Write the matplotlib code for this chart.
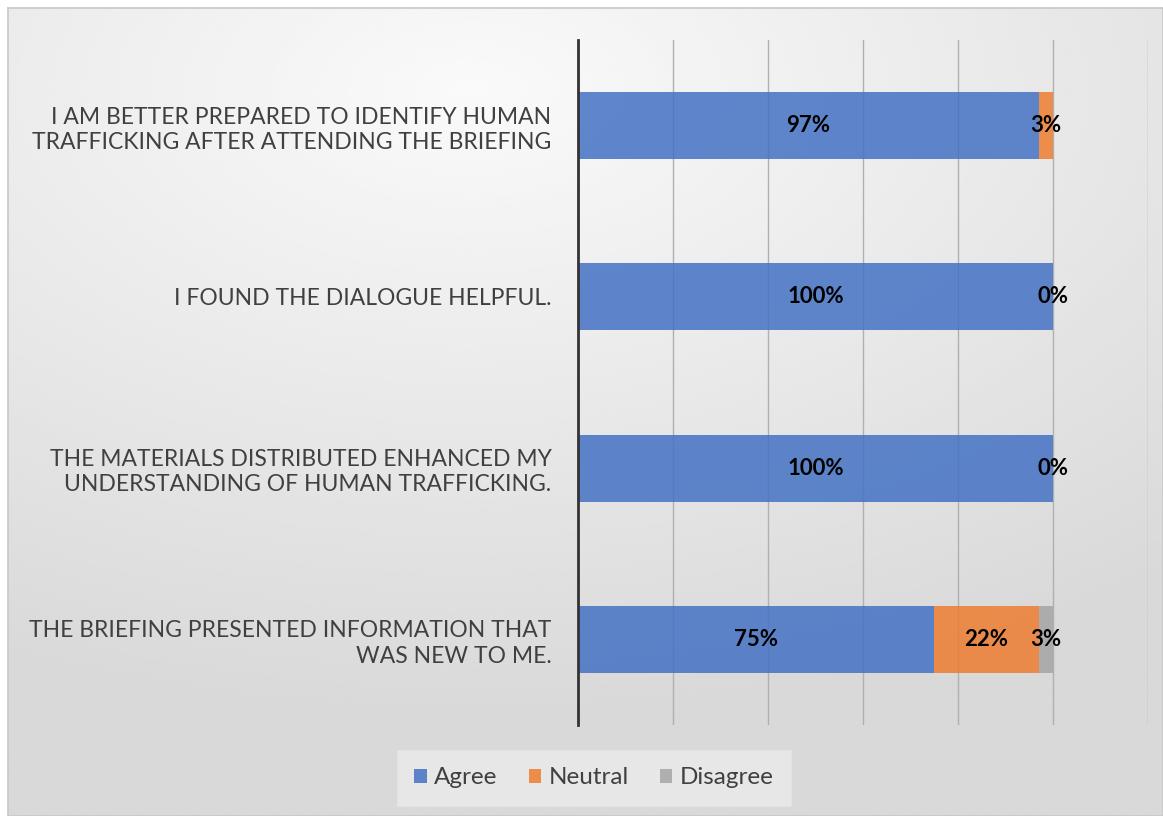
import matplotlib.pyplot as plt
import numpy as np

categories = [
    "THE BRIEFING PRESENTED INFORMATION THAT\nWAS NEW TO ME.",
    "THE MATERIALS DISTRIBUTED ENHANCED MY\nUNDERSTANDING OF HUMAN TRAFFICKING.",
    "I FOUND THE DIALOGUE HELPFUL.",
    "I AM BETTER PREPARED TO IDENTIFY HUMAN\nTRAFFICKING AFTER ATTENDING THE BRIEFING",
]
agree = [75, 100, 100, 97]
neutral = [22, 0, 0, 3]
disagree = [3, 0, 0, 0]

series = [("Agree", agree, "#4472c4"),
          ("Neutral", neutral, "#ed7d31"),
          ("Disagree", disagree, "#a5a5a5")]

plt.rcParams['font.family'] = ['Lato', 'DejaVu Sans']

fig = plt.figure(figsize=(11.63, 8.16), dpi=100)
fig.patch.set_facecolor("white")

# gradient background panel
bg = fig.add_axes([8 / 1163, 0, 1 - 8 / 1163, 1 - 8 / 816], zorder=-10)
yy, xx = np.mgrid[0:1:300j, 0:1:400j]
r = np.sqrt(((xx - 0.4) / 1.1) ** 2 + ((yy - 0.1) / 0.9) ** 2)
shade = np.clip(0.98 - 0.15 * r, 0.85, 0.98)
bg.imshow(shade, cmap="gray", vmin=0, vmax=1, aspect="auto",
          extent=[0, 1, 1, 0], interpolation="bicubic")
bg.set_xticks([])
bg.set_yticks([])
for s in bg.spines.values():
    s.set_color("#c8c8c8")
    s.set_linewidth(1.2)

ax = fig.add_axes([578 / 1163, 1 - 725 / 816, (1148 - 578) / 1163, (725 - 40) / 816])
ax.patch.set_alpha(0)
y = np.arange(len(categories))
left = np.zeros(len(categories))
bars = {}
for name, vals, col in series:
    ax.barh(y, vals, left=left, height=0.39, color=col, alpha=0.85,
            label=name, zorder=3)
    bars[name] = (np.array(vals), left.copy())
    left = left + np.array(vals)

for name in ["Agree", "Neutral", "Disagree"]:
    vals, lft = bars[name]
    for i, v in enumerate(vals):
        if name == "Disagree" and v == 0:
            continue
        ax.text(lft[i] + v / 2, y[i], f"{v}%", ha="center", va="center",
                fontsize=16, fontweight="bold", color="black", zorder=5)

ax.set_xlim(0, 120)
ax.set_ylim(-0.5, 3.5)
ax.set_xticks(np.arange(0, 121, 20))
ax.set_xticklabels([])
ax.tick_params(axis="x", length=0)
ax.tick_params(axis="y", length=0, pad=19)
ax.grid(axis="x", color="#b0b0b0", linewidth=1, zorder=0)
ax.set_yticks(y)
ax.set_yticklabels(categories, fontsize=16.5, color="#404040", ha="right",
                   linespacing=1.25)
for s in ["top", "right", "bottom"]:
    ax.spines[s].set_visible(False)
ax.spines["left"].set_color("#333333")
ax.spines["left"].set_linewidth(2)
ax.spines["left"].set_zorder(6)

leg = fig.legend(loc="center", bbox_to_anchor=(594 / 1163, 1 - 778 / 816),
                 ncol=3, frameon=True, fontsize=17.5, handlelength=0.5,
                 handleheight=0.5, handletextpad=0.3, columnspacing=1.3,
                 borderpad=0.4)
leg.get_frame().set_facecolor("#ebebeb")
leg.get_frame().set_edgecolor("#e3e3e3")
leg.get_frame().set_boxstyle("square")
for t in leg.get_texts():
    t.set_color("#404040")

fig.savefig("out.png", dpi=100)
